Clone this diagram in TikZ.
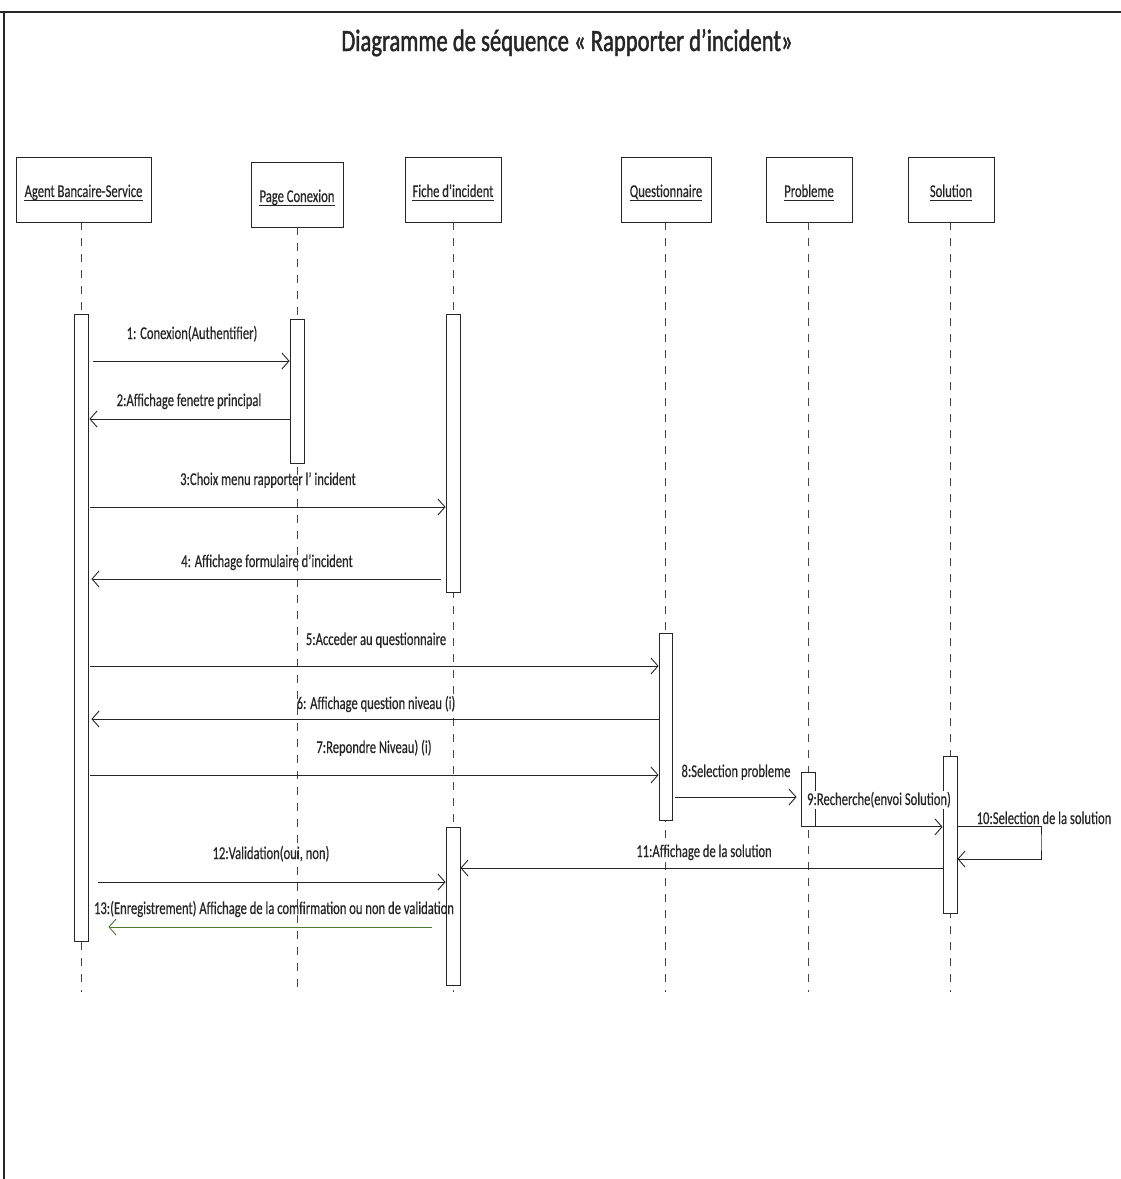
\documentclass[tikz,border=0pt]{standalone}
\usepackage{fontspec}
\setmainfont{Carlito}[FakeStretch=0.70, FakeBold=0.4]
\newfontfamily\titlefont{Carlito}[FakeStretch=0.73, FakeBold=1.4]
\usetikzlibrary{arrows.meta,calc}
\definecolor{ink}{HTML}{262626}
\definecolor{valgreen}{HTML}{4E7A36}
\tikzset{
  lifebox/.style={draw=ink, line width=0.9pt, fill=white, inner sep=0pt},
  headlabel/.style={font=\fontsize{18}{21}\selectfont, text=ink, inner sep=0pt, anchor=base},
  underl/.style={draw=ink, line width=1.1pt},
  lifeline/.style={draw=ink!85, line width=0.8pt, dash pattern=on 8pt off 8pt},
  actbar/.style={draw=ink, line width=0.9pt, fill=white, minimum width=14pt,
    inner sep=0pt, anchor=north},
  msg/.style={draw=ink, line width=0.9pt,
    -{Straight Barb[length=7pt,width=16pt,line width=0.9pt]}},
  msglabel/.style={font=\fontsize{18}{21}\selectfont, text=ink, inner sep=0pt, anchor=base},
}
\begin{document}
\begin{tikzpicture}[x=1pt,y=-1pt]
  % page and frame
  \fill[white] (0,0) rectangle (1121,1179);
  \useasboundingbox (0,0) rectangle (1121,1179);
  \draw[ink, line width=1.8pt] (0,12) -- (1121,12);
  \draw[ink, line width=1.5pt] (4,12) -- (4,1179);

  % title
  \node[anchor=base, text=ink, inner sep=0pt,
        font=\titlefont\fontsize{31}{34}\selectfont] (title) at (567,51)
        {Diagramme de séquence « Rapporter d’incident»};

  % participants
  \node[lifebox, minimum width=135pt, minimum height=65pt] (pAgent) at (83.5,189.5) {};
  \node[lifebox, minimum width=92pt, minimum height=65pt] (pPage) at (297,194.5) {};
  \node[lifebox, minimum width=96pt, minimum height=65pt] (pFiche) at (453,189.5) {};
  \node[lifebox, minimum width=90pt, minimum height=65pt] (pQuest) at (666,189.5) {};
  \node[lifebox, minimum width=86pt, minimum height=65pt] (pProb) at (809,189.5) {};
  \node[lifebox, minimum width=86pt, minimum height=65pt] (pSol) at (951,189.5) {};

  \node[headlabel] (hAgent) at (83.5,197) {Agent Bancaire-Service};
  \node[headlabel] (hPage) at (297,202) {Page Conexion};
  \node[headlabel] (hFiche) at (453,197) {Fiche d'incident};
  \node[headlabel] (hQuest) at (666,197) {Questionnaire};
  \node[headlabel] (hProb) at (809,197) {Probleme};
  \node[headlabel] (hSol) at (951,197) {Solution};
  \foreach \h in {hAgent,hPage,hFiche,hQuest,hProb,hSol}
    \draw[underl] ([yshift=-3.5pt]\h.base west) -- ([yshift=-3.5pt]\h.base east);

  % lifelines
  \coordinate (endAgent) at (81,992);
  \coordinate (endPage) at (297,992);
  \coordinate (endFiche) at (453,992);
  \coordinate (endQuest) at (665.5,992);
  \coordinate (endProb) at (808,992);
  \coordinate (endSol) at (950,992);
  \draw[lifeline] (pAgent.south -| endAgent) -- (endAgent);
  \draw[lifeline] (pPage.south -| endPage) -- (endPage);
  \draw[lifeline] (pFiche.south -| endFiche) -- (endFiche);
  \draw[lifeline] (pQuest.south -| endQuest) -- (endQuest);
  \draw[lifeline] (pProb.south -| endProb) -- (endProb);
  \draw[lifeline] (pSol.south -| endSol) -- (endSol);

  % activation bars
  \node[actbar, minimum height=627pt] (aAgent) at (81,314) {};
  \node[actbar, minimum height=144pt] (aPage) at (297,319) {};
  \node[actbar, minimum height=278pt] (aFiche1) at (453,314) {};
  \node[actbar, minimum height=187pt, minimum width=13pt] (aQuest) at (665.5,633) {};
  \node[actbar, minimum height=54pt] (aProb) at (808,772) {};
  \node[actbar, minimum height=157pt] (aSol) at (950,756) {};
  \node[actbar, minimum height=158pt] (aFiche2) at (453,827) {};

  % messages
  \draw[msg] ([xshift=5pt]aAgent.east |- 0,361) -- (aPage.west |- 0,361);
  \node[msglabel] (l1) at (192,339) {1: Conexion(Authentifier)};

  \draw[msg] (aPage.west |- 0,419) -- ([xshift=1pt]aAgent.east |- 0,419);
  \node[msglabel] (l2) at (189,406) {2:Affichage fenetre principal};

  \draw[msg] ([xshift=2pt]aAgent.east |- 0,507) -- (aFiche1.west |- 0,507);
  \node[msglabel] (l3) at (268,485) {3:Choix menu rapporter l' incident};

  \draw[msg] ([xshift=-5pt]aFiche1.west |- 0,579) -- ([xshift=3pt]aAgent.east |- 0,579);
  \node[msglabel] (l4) at (267,567) {4: Affichage formulaire d'incident};

  \draw[msg] ([xshift=2pt]aAgent.east |- 0,666) -- (aQuest.west |- 0,666);
  \node[msglabel] (l5) at (376,645) {5:Acceder au questionnaire};

  \draw[msg] (aQuest.west |- 0,719) -- ([xshift=3pt]aAgent.east |- 0,719);
  \node[msglabel] (l6) at (376,709) {6: Affichage question niveau (i)};

  \draw[msg] ([xshift=2pt]aAgent.east |- 0,775) -- (aQuest.west |- 0,775);
  \node[msglabel] (l7) at (374,753) {7:Repondre Niveau) (i)};

  \draw[msg] ([xshift=3pt]aQuest.east |- 0,797) -- ([xshift=-4pt]aProb.west |- 0,797);
  \node[msglabel] (l8) at (736,777) {8:Selection probleme};

  \draw[msg] (aProb.south west) -- (aSol.west |- aProb.south west);
  \node[msglabel, fill=white, inner sep=1pt] (l9) at (879,805) {9:Recherche(envoi Solution)};

  \coordinate (selfTurn) at (1041,842);
  \draw[msg] (aSol.east |- 0,826) -| (selfTurn) |- (aSol.east |- 0,859);
  \node[msglabel, fill=white, inner sep=1pt] (l10) at (1044,824) {10:Selection de la solution};

  \draw[msg] (aSol.west |- 0,868) -- (aFiche2.east |- 0,868);
  \node[msglabel] (l11) at (704,857) {11:Affichage de la solution};

  \draw[msg] ([xshift=10pt]aAgent.east |- 0,882) -- (aFiche2.west |- 0,882);
  \node[msglabel] (l12) at (271,859) {12:Validation(oui, non)};

  \draw[msg, draw=valgreen] ([xshift=-14pt]aFiche2.west |- 0,927) -- ([xshift=20pt]aAgent.east |- 0,927);
  \node[msglabel] (l13) at (274,914) {13:(Enregistrement) Affichage de la comfirmation ou non de validation};
\end{tikzpicture}
\end{document}
